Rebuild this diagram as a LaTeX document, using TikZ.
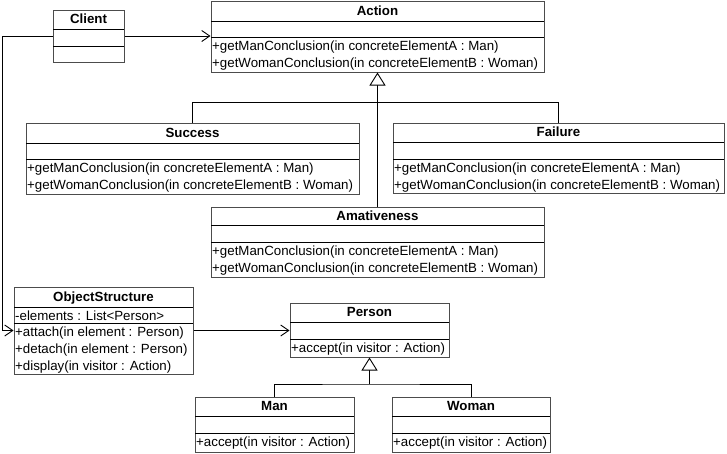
\documentclass[tikz,border=0pt]{standalone}
\usepackage{fontspec}
\setmainfont{Liberation Sans}
\usetikzlibrary{arrows.meta,fit}
\tikzset{
  clsbox/.style={draw=black!70, line width=1pt, inner sep=0pt},
  sepline/.style={draw=black, line width=0.9pt},
  ttl/.style={font=\fontsize{13.3}{16}\selectfont\bfseries, inner sep=0pt, anchor=base},
  mem/.style={font=\fontsize{13.3}{16}\selectfont, inner sep=0pt, anchor=base west},
  assoc/.style={draw=black, line width=0.9pt, -{Straight Barb[length=8pt,width=11pt]}},
  gen/.style={draw=black, line width=0.9pt, -{Triangle[open,length=13pt,width=16pt,fill=white]}},
  link/.style={draw=black, line width=0.9pt},
}
\newcommand\umlclass[8]{%
  \node[clsbox, fit={(#2,#3)(#4,#5)}] (#1) {};
  \draw[sepline] (#2,#6) -- (#4,#6);
  \draw[sepline] (#2,#7) -- (#4,#7);
  \node[ttl] (#1-t) at ({(#2+#4)/2},{(#3+#6)/2+4.2}) {#8};
}
\begin{document}
\begin{tikzpicture}[x=1pt,y=-1pt]
\useasboundingbox (0,0) rectangle (727,453);
% classes
\umlclass{client}{53}{10}{124}{62}{29}{46}{Client}
\umlclass{action}{211}{1}{544}{72}{21}{37}{Action}
\node[mem] (action-m1) at (212,50) {+getManConclusion(in concreteElementA : Man)};
\node[mem] (action-m2) at (212,67) {+getWomanConclusion(in concreteElementB : Woman)};
\umlclass{success}{26}{123}{359}{194}{143}{159}{Success}
\node[mem] (success-m1) at (27,172) {+getManConclusion(in concreteElementA : Man)};
\node[mem] (success-m2) at (27,189) {+getWomanConclusion(in concreteElementB : Woman)};
\umlclass{failure}{393}{123}{724}{193}{142}{159}{Failure}
\node[mem] (failure-m1) at (394,172) {+getManConclusion(in concreteElementA : Man)};
\node[mem] (failure-m2) at (394,189) {+getWomanConclusion(in concreteElementB : Woman)};
\umlclass{amat}{211}{207}{544}{277}{225}{242}{Amativeness}
\node[mem] (amat-m1) at (212,255) {+getManConclusion(in concreteElementA : Man)};
\node[mem] (amat-m2) at (212,272) {+getWomanConclusion(in concreteElementB : Woman)};
\umlclass{objstr}{14}{287}{193}{374}{307}{323}{ObjectStructure}
\node[mem] (objstr-a1) at (15,320) {-elements : List<Person>};
\node[mem] (objstr-m1) at (15,336) {+attach(in element : Person)};
\node[mem] (objstr-m2) at (15,353) {+detach(in element : Person)};
\node[mem] (objstr-m3) at (15,370) {+display(in visitor : Action)};
\umlclass{person}{290}{303}{449}{357}{322}{339}{Person}
\node[mem] (person-m1) at (291,352) {+accept(in visitor : Action)};
\umlclass{man}{195}{397}{354}{452}{416}{433}{Man}
\node[mem] (man-m1) at (196,446) {+accept(in visitor : Action)};
\umlclass{woman}{392}{397}{550}{452}{416}{433}{Woman}
\node[mem] (woman-m1) at (393,446) {+accept(in visitor : Action)};
% helper coordinates
\coordinate (lft) at (2,0);
\coordinate (pb) at (0,384);
% associations
\draw[assoc] (client.east) -- (client.east -| action.west);
\draw[assoc] (client.west) -- (client.west -| lft) |- (objstr.west);
\draw[assoc] (objstr.east) -- (objstr.east -| person.west);
% generalizations
\draw[link] (success.north) -- ++(0,-20) -| (failure.north);
\draw[gen] (amat.north) -- (action.south);
\draw[link] (man.north) |- (pb -| person.south) -| (woman.north);
\draw[gen] (pb -| person.south) -- (person.south);
\end{tikzpicture}
\end{document}
